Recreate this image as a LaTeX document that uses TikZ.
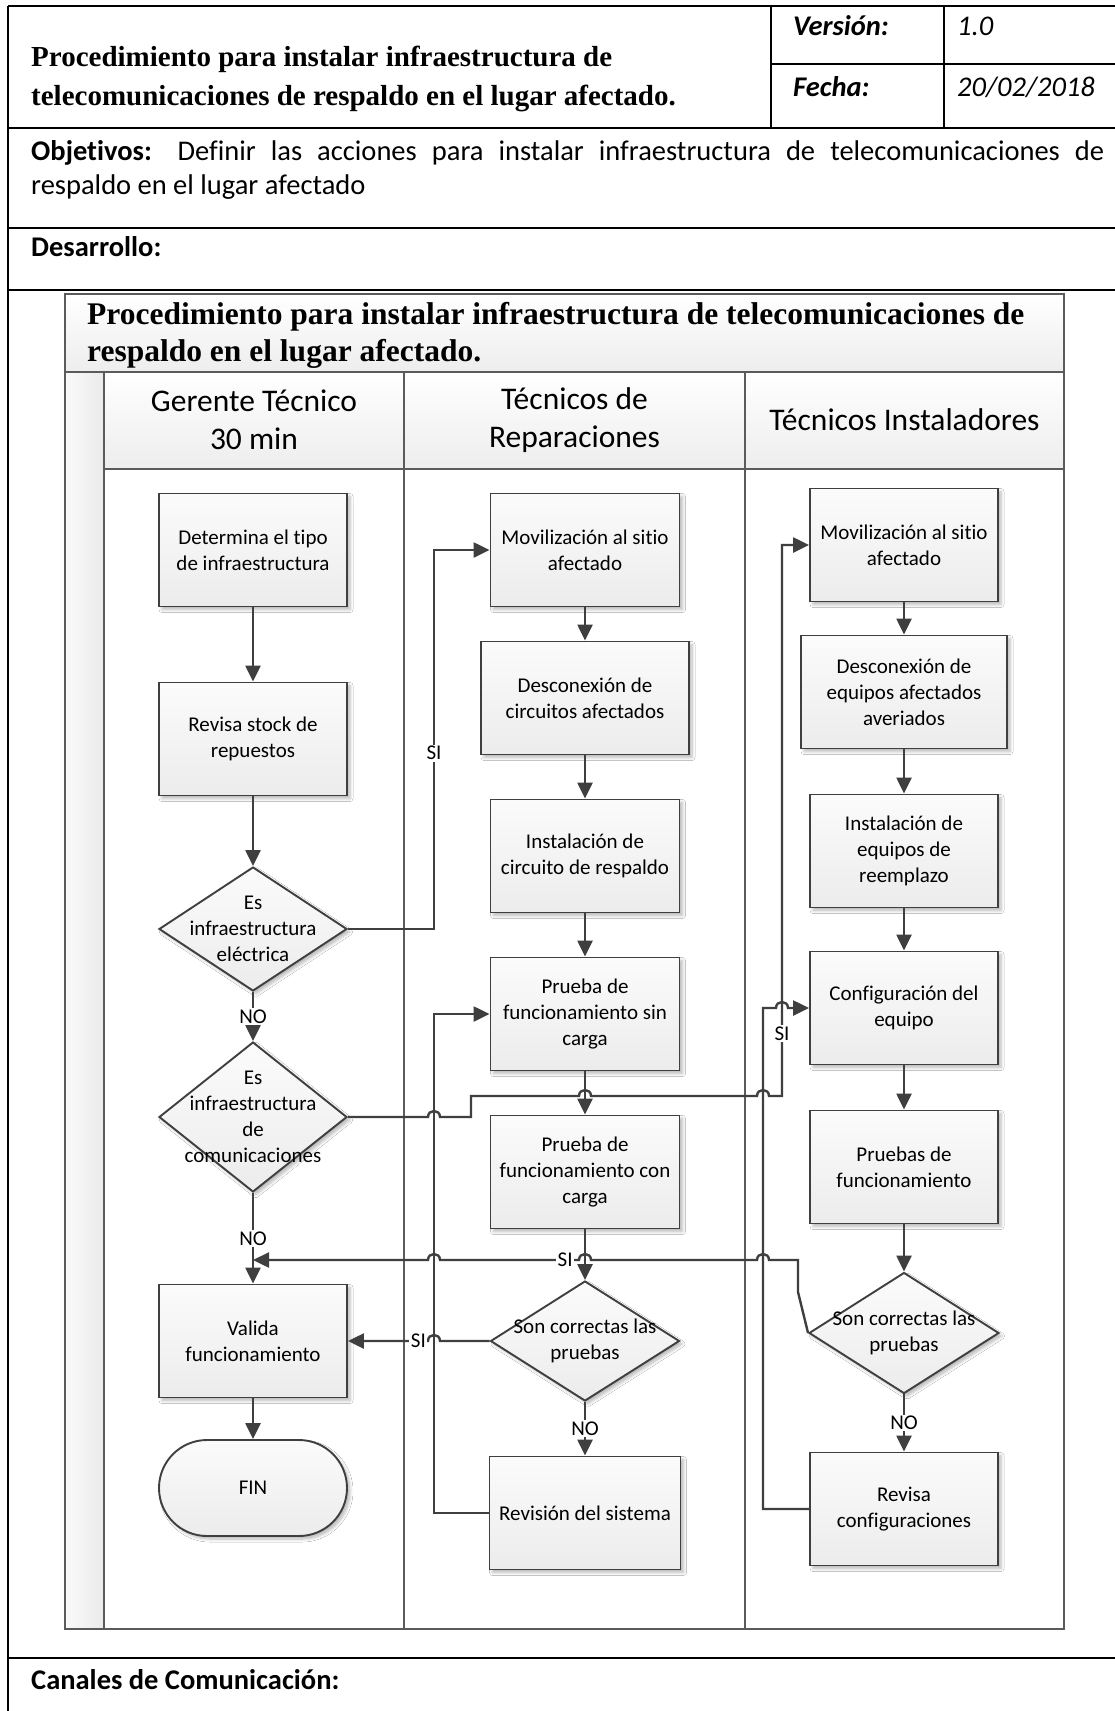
\documentclass[tikz,border=0pt]{standalone}
\usepackage{fontspec}
\setmainfont{Carlito}[Ligatures=NoCommon]
\newfontfamily\titlefont{Liberation Serif}
\usetikzlibrary{shapes.geometric,arrows.meta,shadows.blur}

\definecolor{linegray}{HTML}{3F3F3F}
\definecolor{framegray}{HTML}{5B5B5B}

\newcommand\boxfont{\fontsize{21}{26}\selectfont}
\newcommand\lanefont{\fontsize{31.5}{38}\selectfont}
\newcommand\tablefont{\fontsize{28.5}{34}\selectfont}
\newcommand\headtitlefont{\titlefont\bfseries\fontsize{29}{39}\selectfont}
\newcommand\swimtitlefont{\titlefont\bfseries\fontsize{31.5}{37}\selectfont}

\tikzset{
  tline/.style={draw=black, line width=2.8pt},
  laneline/.style={draw=framegray, line width=1.9pt},
  conn/.style={draw=linegray, line width=2.4pt},
  arr/.style={conn, -{Triangle[length=16pt,width=15pt]}},
  softshadow/.style={blur shadow={shadow xshift=3pt, shadow yshift=-3pt,
      shadow blur radius=3pt, shadow blur steps=6, shadow opacity=28}},
  shapefill/.style={top color=gray!3, bottom color=gray!15},
  procbox/.style={rectangle, draw=linegray, line width=1.9pt, shapefill, softshadow,
      minimum width=188pt, minimum height=113pt, inner sep=3pt, align=center, font=\boxfont},
  decision/.style={diamond, draw=linegray, line width=1.9pt, shapefill, softshadow,
      minimum width=188pt, minimum height=124pt, inner sep=0pt},
  dtext/.style={font=\boxfont, align=center},
  lbl/.style={fill=white, inner sep=1.5pt, font=\boxfont},
  % line jumps over a crossing connector (rightward / leftward travel)
  jr/.style args={#1/#2}{insert path={-- ({#1-6},#2) .. controls ({#1-6},{#2-8}) and ({#1+6},{#2-8}) .. ({#1+6},#2)}},
  jl/.style args={#1/#2}{insert path={-- ({#1+6},#2) .. controls ({#1+6},{#2-8}) and ({#1-6},{#2-8}) .. ({#1-6},#2)}},
}

\begin{document}
\begin{tikzpicture}[x=1pt,y=-1pt]
\useasboundingbox (0,0) rectangle (1115,1711);
\fill[white] (0,0) rectangle (1115,1711);

% ---------- document table ----------
\draw[tline] (8,6) -- (1115,6);
\draw[tline] (8,6) -- (8,1711);
\draw[tline] (8,128) -- (1115,128);
\draw[tline] (8,228) -- (1115,228);
\draw[tline] (8,290) -- (1115,290);
\draw[tline] (8,1658) -- (1115,1658);
\draw[tline] (771,6) -- (771,128);
\draw[tline] (944,6) -- (944,128);
\draw[tline] (771,64) -- (1115,64);

\node[anchor=base west, inner sep=0, font=\headtitlefont] (docTitleA) at (31,66)
  {Procedimiento para instalar infraestructura de};
\node[anchor=base west, inner sep=0, font=\headtitlefont] (docTitleB) at (31,105)
  {telecomunicaciones de respaldo en el lugar afectado.};
\node[anchor=base west, inner sep=0, font=\tablefont\bfseries\itshape] (verKey) at (793,35) {Versión:};
\node[anchor=base west, inner sep=0, font=\tablefont\itshape] (verVal) at (957,35) {1.0};
\node[anchor=base west, inner sep=0, font=\tablefont\bfseries\itshape] (dateKey) at (793,96) {Fecha:};
\node[anchor=base west, inner sep=0, font=\tablefont\itshape] (dateVal) at (957,96) {20/02/2018};

\node[anchor=base west, inner sep=0, font=\tablefont] (objA) at (31,160)
  {\makebox[1073pt][s]{\textbf{Objetivos:} Definir las acciones para instalar infraestructura de telecomunicaciones de}};
\node[anchor=base west, inner sep=0, font=\tablefont] (objB) at (31,194)
  {respaldo en el lugar afectado};
\node[anchor=base west, inner sep=0, font=\tablefont\bfseries] (dev) at (31,256) {Desarrollo:};
\node[anchor=base west, inner sep=0, font=\tablefont\bfseries] (chan) at (31,1689) {Canales de Comunicación:};

% ---------- swimlane frame ----------
\shade[top color=white, bottom color=gray!14] (65,294) rectangle (1064,372);
\shade[top color=white, bottom color=gray!14] (104,372) rectangle (1064,469);
\shade[left color=gray!4, right color=gray!16] (65,372) rectangle (104,1629);
\draw[laneline] (65,294) rectangle (1064,1629);
\draw[laneline] (65,372) -- (1064,372);
\draw[laneline] (104,469) -- (1064,469);
\draw[laneline] (104,372) -- (104,1629);
\draw[laneline] (404,372) -- (404,1629);
\draw[laneline] (745,372) -- (745,1629);

\node[anchor=base west, inner sep=0, font=\swimtitlefont] (poolTitleA) at (87,324)
  {Procedimiento para instalar infraestructura de telecomunicaciones de};
\node[anchor=base west, inner sep=0, font=\swimtitlefont] (poolTitleB) at (87,361)
  {respaldo en el lugar afectado.};

\node[font=\lanefont, align=center] (laneA) at (254,420) {Gerente Técnico\\30 min};
\node[font=\lanefont, align=center] (laneB) at (574.5,420) {Técnicos de\\Reparaciones};
\node[font=\lanefont, align=center] (laneC) at (904.5,420) {Técnicos Instaladores};

% ---------- lane 1: Gerente Técnico ----------
\node[procbox] (det) at (253,550) {Determina el tipo\\de infraestructura};
\node[procbox] (stock) at (253,739) {Revisa stock de\\repuestos};
\node[decision, label={[dtext]center:{Es\\infraestructura\\eléctrica}}] (d1) at (253,929) {};
\node[decision, minimum height=150pt,
      label={[dtext]center:{Es\\infraestructura\\de\\comunicaciones}}] (d2) at (253,1117) {};
\node[procbox] (valida) at (253,1341) {Valida\\funcionamiento};
\node[procbox, minimum height=96pt, rounded corners=48pt] (fin) at (253,1488) {FIN};
\coordinate (merge) at (253,1260);

% ---------- lane 2: Técnicos de Reparaciones ----------
\node[procbox, minimum width=189pt] (mov2) at (585,550) {Movilización al sitio\\afectado};
\node[procbox, minimum width=208pt] (desc2) at (585,698) {Desconexión de\\circuitos afectados};
\node[procbox, minimum width=189pt] (inst2) at (585,856) {Instalación de\\circuito de respaldo};
\node[procbox, minimum width=189pt] (psin) at (585,1014) {Prueba de\\funcionamiento sin\\carga};
\node[procbox, minimum width=189pt] (pcon) at (585,1172) {Prueba de\\funcionamiento con\\carga};
\node[decision, minimum width=189pt, minimum height=120pt,
      label={[dtext]center:{Son correctas las\\pruebas}}] (d3) at (585,1341) {};
\node[procbox, minimum width=191pt] (rev) at (585,1513) {Revisión del sistema};

% ---------- lane 3: Técnicos Instaladores ----------
\node[procbox] (mov3) at (904,545) {Movilización al sitio\\afectado};
\node[procbox, minimum width=206pt] (desc3) at (904,692) {Desconexión de\\equipos afectados\\averiados};
\node[procbox] (inst3) at (904,851) {Instalación de\\equipos de\\reemplazo};
\node[procbox] (conf) at (904,1008) {Configuración del\\equipo};
\node[procbox] (pru) at (904,1167) {Pruebas de\\funcionamiento};
\node[decision, minimum width=190pt, minimum height=121pt,
      label={[dtext]center:{Son correctas las\\pruebas}}] (d4) at (904,1333) {};
\node[procbox] (revc) at (904,1509) {Revisa\\configuraciones};

% ---------- connectors ----------
\draw[arr] (det) -- (stock);
\draw[arr] (stock) -- (d1);
\draw[arr] (d1) -- node[lbl]{NO} (d2);
\draw[arr] (d2) -- node[lbl]{NO} (valida);
\draw[arr] (valida) -- (fin);

\draw[arr] (mov2) -- (desc2);
\draw[arr] (desc2) -- (inst2);
\draw[arr] (inst2) -- (psin);
\draw[arr] (psin) -- (pcon);
\draw[arr] (pcon) -- (d3);
\draw[arr] (d3) -- node[lbl]{NO} (rev);

\draw[arr] (mov3) -- (desc3);
\draw[arr] (desc3) -- (inst3);
\draw[arr] (inst3) -- (conf);
\draw[arr] (conf) -- (pru);
\draw[arr] (pru) -- (d4);
\draw[arr] (d4) -- node[lbl]{NO} (revc);

% SI branches
\draw[arr] (d1.east) -- (434,929) -- node[lbl,pos=0.464]{SI} (434,550) -- (mov2.west);
\draw[arr] (d2.east) [jr=434/1117] -- (471,1117) -- (471,1096)
  [jr=585/1096] [jr=763/1096] -- (782,1096)
  -- node[lbl,pos=0.113]{SI} (782,545) -- (mov3.west);
\draw[arr] (d3.west) [jl=434/1341] -- node[lbl,pos=0.12]{SI} (valida.east);
\draw[arr] (d4.west) -- (798,1292) -- (798,1260) [jl=763/1260] [jl=585/1260]
  -- node[lbl,pos=0.1]{SI} (440,1260) [jl=434/1260] -- (merge);

% return loops
\draw[arr] (rev.west) -- (434,1513) -- (434,1014) -- (psin.west);
\draw[arr] (revc.west) -- (763,1509) -- (763,1008) [jr=782/1008] -- (conf.west);
\end{tikzpicture}
\end{document}
